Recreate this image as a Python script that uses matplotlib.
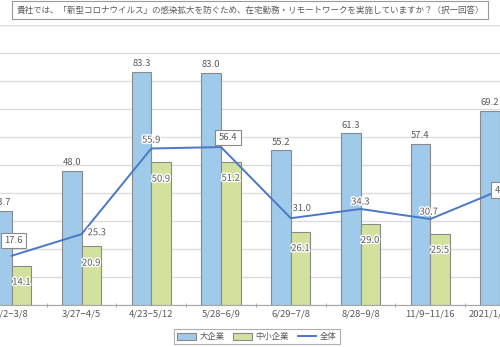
# -*- coding: utf-8 -*-
"""テレワーク実施率の推移 (大企業 / 中小企業 / 全体)"""
import numpy as np
import matplotlib
matplotlib.use("Agg")
import matplotlib.pyplot as plt
import matplotlib.patheffects as pe

plt.rcParams['font.family'] = ['Noto Sans CJK JP', 'DejaVu Sans']

periods = ["3/2−3/8", "3/27−4/5", "4/23−5/12", "5/28−6/9",
           "6/29−7/8", "8/28−9/8", "11/9−11/16", "2021/1/8−1/18"]
large = [33.7, 48.0, 83.3, 83.0, 55.2, 61.3, 57.4, 69.2]
small = [14.1, 20.9, 50.9, 51.2, 26.1, 29.0, 25.5, np.nan]
total = [17.6, 25.3, 55.9, 56.4, 31.0, 34.3, 30.7, 41.0]

title = "貴社では、「新型コロナウイルス」の感染拡大を防ぐため、在宅勤務・リモートワークを実施していますか？（択一回答）"

c_large = "#9fcaea"
c_small = "#d2e29e"
c_line = "#4a78c8"
c_text = "#595959"
c_edge = "#8a8a8a"

x = np.arange(len(periods))
w = 0.28

fig = plt.figure(figsize=(5, 3.47), dpi=100)
ax = fig.add_axes([0, 0.121, 1, 0.807])

b1 = ax.bar(x - w / 2, large, w, color=c_large, edgecolor=c_edge, linewidth=0.8, zorder=2, label="大企業")
b2 = ax.bar(x + w / 2, small, w, color=c_small, edgecolor=c_edge, linewidth=0.8, zorder=2, label="中小企業")
l1, = ax.plot(x, total, color=c_line, linewidth=1.4, zorder=3, label="全体")

halo = [pe.withStroke(linewidth=2, foreground="white")]
for i in range(len(periods)):
    ax.annotate(f"{large[i]:.1f}", (x[i] - w / 2, large[i]), xytext=(0, 6), textcoords="offset points",
                ha="center", va="center", fontsize=6.8, color=c_text, zorder=5)
    if not np.isnan(small[i]):
        ax.annotate(f"{small[i]:.1f}", (x[i] + w / 2, small[i]), xytext=(0, -12), textcoords="offset points",
                    ha="center", va="center", fontsize=6.8, color=c_text, path_effects=halo, zorder=5)

# 全体 labels (offsets in points)
offs = [(1, 11), (11, 1), (0, 6), (5, 7), (8, 7), (0, 5), (-1, 5), (3, 0)]
boxed = [0, 3, 7]
for i, (dx, dy) in enumerate(offs):
    kw = {}
    if i in boxed:
        kw["bbox"] = dict(boxstyle="square,pad=0.35", fc="white", ec=c_edge, lw=0.8)
    else:
        kw["path_effects"] = halo
    ax.annotate(f"{total[i]:.1f}", (x[i], total[i]), xytext=(dx, dy), textcoords="offset points",
                ha="center", va="center", fontsize=6.8, color=c_text, zorder=6, **kw)

ax.set_xlim(-0.169, 6.873)
ax.set_ylim(0, 100)
ax.set_yticks(np.arange(0, 101, 10))
ax.yaxis.grid(True, color="#dcdcdc", linewidth=1.0, zorder=0)
ax.set_axisbelow(True)
ax.tick_params(axis="y", left=False, labelleft=False)
ax.set_xticks(x)
ax.set_xticklabels(periods, fontsize=6.8, color=c_text)
ax.tick_params(axis="x", length=0, pad=3)
ax.set_xticks(x[:-1] + 0.5, minor=True)
ax.tick_params(axis="x", which="minor", length=3, direction="inout", color="#999999")
for s in ["top", "left", "right"]:
    ax.spines[s].set_visible(False)
ax.spines["bottom"].set_color("#a6a6a6")

fig.text(0.5, 0.971, title, ha="center", va="center", fontsize=6.15, color=c_text,
         bbox=dict(boxstyle="square,pad=0.5", fc="white", ec="#9a9a9a", lw=0.8))

leg = fig.legend(handles=[b1, b2, l1], loc="center", bbox_to_anchor=(0.514, 0.03), ncol=3, fontsize=6,
                 frameon=True, fancybox=False, edgecolor="#9a9a9a", handlelength=2.2, handleheight=1.0,
                 columnspacing=1.0, handletextpad=0.5, borderpad=0.4)
leg.get_frame().set_linewidth(0.8)
for t in leg.get_texts():
    t.set_color(c_text)

fig.savefig("out.png", dpi=100)
